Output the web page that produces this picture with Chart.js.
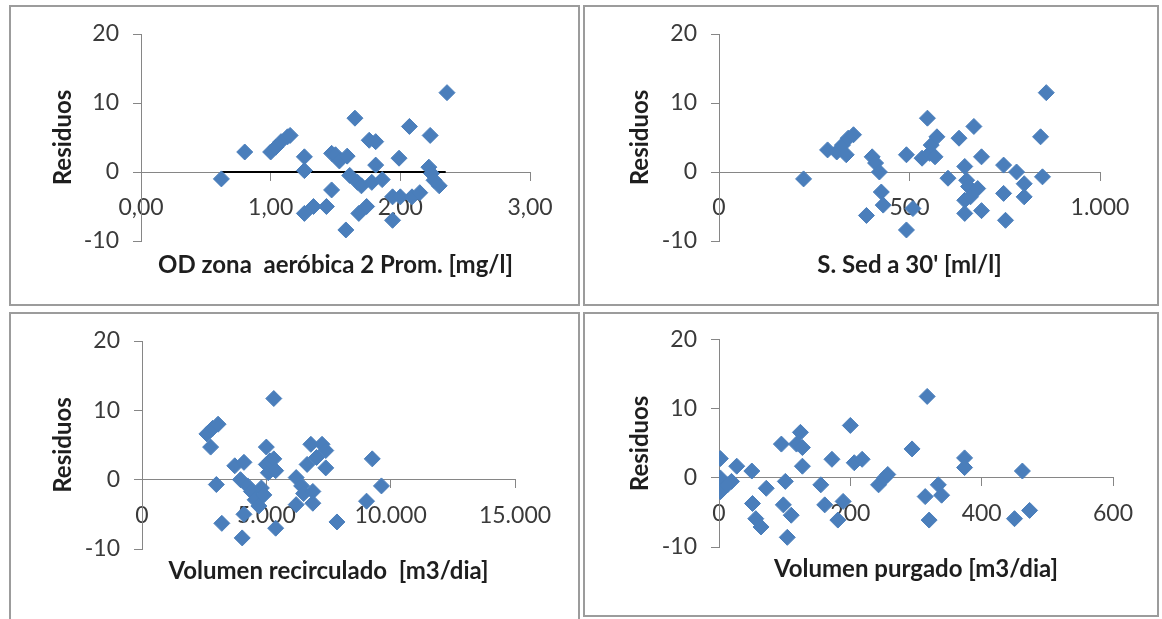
<!DOCTYPE html>
<html>
<head>
<meta charset="utf-8">
<script src="https://cdn.jsdelivr.net/npm/chart.js@4.4.1/dist/chart.umd.min.js"></script>
<style>
body{margin:0;background:#fff;width:1162px;height:619px;overflow:hidden;position:relative}
canvas{position:absolute}
.panel{position:absolute;box-sizing:border-box;border:2px solid #9c9c9c;pointer-events:none}
</style>
</head>
<body>
<canvas id="c1" width="570" height="301" style="left:9px;top:5px"></canvas>
<canvas id="c2" width="576" height="301" style="left:583px;top:5px"></canvas>
<canvas id="c3" width="570" height="310" style="left:9px;top:312px"></canvas>
<canvas id="c4" width="576" height="305" style="left:583px;top:312px"></canvas>
<div class="panel" style="left:9px;top:5px;width:571px;height:301px"></div>
<div class="panel" style="left:583px;top:5px;width:576px;height:301px"></div>
<div class="panel" style="left:9px;top:312px;width:571px;height:320px"></div>
<div class="panel" style="left:583px;top:312px;width:576px;height:305px"></div>
<script>
// residuals vs each variable
const yLabels=['-10','0','10','20'];

const odX=[0.62,0.80,1.00,1.04,1.08,1.13,1.15,1.26,1.26,1.26,1.33,1.43,1.47,1.47,1.50,1.53,1.59,1.65,1.58,1.61,1.67,1.68,1.70,1.74,1.76,1.81,1.81,1.78,1.86,1.94,1.94,1.99,2.00,2.07,2.09,2.15,2.22,2.23,2.24,2.26,2.30,2.36];
const odRes=[-1.0,2.9,2.9,3.6,4.4,5.1,5.3,2.2,0.2,-6.0,-5.0,-5.0,-2.6,2.7,2.5,1.6,2.3,7.8,-8.4,-0.5,-1.5,-6.0,-2.0,-5.0,4.6,4.4,1.0,-1.5,-1.1,-3.6,-7.0,2.0,-3.6,6.6,-3.6,-3.0,0.7,5.3,-0.2,-1.2,-2.0,11.5];
const odLine=[0.62,2.35];
const odTicks=['0,00','1,00','2,00','3,00'];

const sedX=[222,285,309,324,339,353,334,402,411,421,387,426,431,492,492,509,533,547,553,557,572,567,601,630,645,650,655,645,645,669,660,679,689,689,747,747,752,781,801,801,844,849,859];
const sedRes=[-1.0,3.2,2.9,3.9,4.9,5.4,2.5,2.2,1.3,0,-6.3,-2.9,-4.8,2.5,-8.4,-5.3,2.0,7.8,2.7,3.9,5.1,2.2,-0.9,4.9,0.8,-1.2,-2.1,-4.1,-6.0,6.6,-3.6,-2.4,2.2,-5.6,1.0,-3.1,-7.0,0,-1.7,-3.6,5.1,-0.7,11.5];
const sedTicks=['0','500','1.000'];

const recX=[2610,2840,3060,2760,2990,3210,3730,4100,3960,4250,4100,4030,4400,4550,4700,4800,4900,5000,5000,5080,5150,5300,5300,5375,5375,6200,6200,6420,6500,6640,6790,6870,6870,7020,7240,7390,7390,7840,9030,9260,9630];
const recRes=[6.6,7.4,8.0,4.7,-0.7,-6.3,2.0,2.5,0,-0.9,-5.0,-8.4,-1.7,-2.9,-3.8,-1.2,-2.2,4.7,2.2,1.0,2.7,3.0,11.7,1.3,-7.0,0.3,-3.6,-0.9,-2.0,2.2,5.1,-1.7,-3.4,3.2,5.1,4.2,1.7,-6.1,-3.1,3.0,-0.9];
const recTicks=['0','5.000','10.000','15.000'];

const purX=[2,2,2,13,19,27,50,51,56,64,72,95,101,98,110,104,118,124,127,127,155,161,172,181,189,200,206,218,243,252,257,294,314,317,320,334,339,374,374,450,462,473];
const purRes=[2.8,0,-2.0,-1.0,-0.5,1.7,1.0,-3.7,-5.9,-7.1,-1.5,4.9,-0.5,-3.9,-5.4,-8.6,4.9,6.6,4.4,1.7,-1.0,-3.9,2.7,-6.1,-3.4,7.6,2.2,2.7,-1.0,0,0.5,4.2,-2.7,11.8,-6.1,-1.0,-2.5,2.9,1.5,-5.9,1.0,-4.7];
const purTicks=['0','200','400','600'];

const blue='#4a7ebb';
const axisGray='#868686';
const fam='Lato, "Open Sans", sans-serif';

function panel(id,xs,ys,xTitle,xMax,xStep,xLabels,L,line){
  const sets=[{
    data:xs.map((x,i)=>({x:x,y:ys[i]})),
    pointStyle:'rectRot',pointRadius:8,
    backgroundColor:blue,borderColor:blue,borderWidth:1,order:0
  }];
  if(line){
    sets.push({data:line.map(x=>({x:x,y:0})),showLine:true,pointRadius:0,
      borderColor:'#000',borderWidth:2,order:1});
  }
  new Chart(document.getElementById(id),{
    type:'scatter',
    data:{datasets:sets},
    options:{
      responsive:false,animation:false,
      layout:{padding:{left:L.pl,top:L.pt,right:L.pr,bottom:L.pb}},
      plugins:{legend:{display:false},tooltip:{enabled:false}},
      scales:{
        x:{
          type:'linear',position:{y:0},min:0,max:xMax,
          ticks:{stepSize:xStep,padding:14,color:'#3a3a3a',maxRotation:0,autoSkip:false,
            font:{family:fam,size:23},callback:(v,i)=>xLabels[i]},
          grid:{drawOnChartArea:false,tickLength:8,color:axisGray},
          border:{color:axisGray},
          title:{display:true,text:xTitle,color:'#1e1e1e',padding:0,
            font:{family:fam,size:24,weight:'bold'}},
          afterFit:s=>{s.height=L.xt;}
        },
        y:{
          min:-10,max:20,
          ticks:{stepSize:10,padding:14,color:'#3a3a3a',
            font:{family:fam,size:23},callback:(v,i)=>yLabels[i]},
          grid:{drawOnChartArea:false,tickLength:8,color:axisGray},
          border:{color:axisGray},
          title:{display:true,text:'Residuos',color:'#1e1e1e',padding:0,
            font:{family:fam,size:24,weight:'bold'}},
          afterFit:s=>{s.width=L.yw;}
        }
      }
    }
  });
}

panel('c1',odX,odRes,'OD zona  aeróbica 2 Prom. [mg/l]',3,1,odTicks,
  {pl:40,pt:29,pr:49,pb:65,yw:92,xt:107.4},odLine);
panel('c2',sedX,sedRes,"S. Sed a 30' [ml/l]",1000,500,sedTicks,
  {pl:43,pt:29,pr:59,pb:65,yw:93,xt:107.4});
panel('c3',recX,recRes,'Volumen recirculado  [m3/dia]',15000,5000,recTicks,
  {pl:40,pt:29,pr:64,pb:73,yw:93,xt:105.8});
panel('c4',purX,purRes,'Volumen purgado [m3/dia]',600,200,purTicks,
  {pl:43,pt:27,pr:46,pb:70,yw:93,xt:106.1});
</script>
</body>
</html>
